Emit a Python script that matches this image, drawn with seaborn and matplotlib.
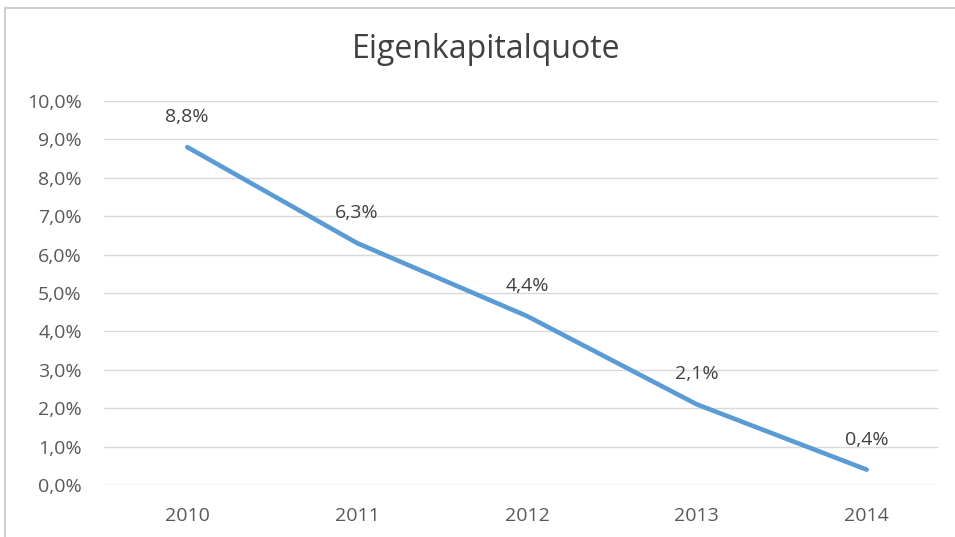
import matplotlib
matplotlib.use('Agg')
import matplotlib.pyplot as plt
import matplotlib.patches as patches
import seaborn as sns
import pandas as pd

years = ['2010', '2011', '2012', '2013', '2014']
quote = [8.8, 6.3, 4.4, 2.1, 0.4]
y_ticks = [0, 1, 2, 3, 4, 5, 6, 7, 8, 9, 10]


def fmt(v):
    return f'{v:.1f}%'.replace('.', ',')


def plot_chart():
    """line chart of the equity ratio per year, excel style"""
    sns.set_style('white')
    plt.rcParams['font.family'] = ['Open Sans', 'DejaVu Sans']

    df = pd.DataFrame({'Jahr': years, 'Quote': quote})
    df['pos'] = range(len(df))

    fig = plt.figure(figsize=(9.55, 5.37), dpi=100)
    ax = fig.add_axes([104 / 955, 1 - 485 / 537, (938 - 104) / 955, (485 - 101) / 537])

    sns.lineplot(data=df, x='pos', y='Quote', ax=ax, color='#5B9BD5', linewidth=3.3)

    for _, row in df.iterrows():
        ax.annotate(fmt(row['Quote']), (row['pos'], row['Quote']), xytext=(0, 21.5),
                    textcoords='offset points', ha='center', va='center',
                    fontsize=14, color='#404040')

    ax.set_xlim(-0.49, 4.42)
    ax.set_ylim(0, 10)
    ax.set_yticks(y_ticks)
    ax.set_yticklabels([fmt(v) for v in y_ticks], fontsize=14, color='#595959')
    ax.set_xticks(df['pos'])
    ax.set_xticklabels(years, fontsize=14, color='#595959')
    ax.tick_params(axis='y', length=0, pad=16)
    ax.tick_params(axis='x', length=0, pad=16)
    ax.grid(axis='y', color='#D9D9D9', linewidth=1)
    ax.set_axisbelow(True)
    for s in ax.spines.values():
        s.set_visible(False)
    ax.set_xlabel('')
    ax.set_ylabel('')

    fig.text(486 / 955, 1 - 49 / 537, 'Eigenkapitalquote', ha='center', va='center',
             fontsize=23, color='#404040')

    frame = patches.Rectangle((5 / 955, -0.05), 1.05, 1 - 8 / 537 + 0.05,
                              transform=fig.transFigure, fill=False,
                              edgecolor='#D0D0D0', linewidth=1.5)
    fig.patches.append(frame)

    fig.savefig('out.png', dpi=100)


if __name__ == "__main__":
    plot_chart()
